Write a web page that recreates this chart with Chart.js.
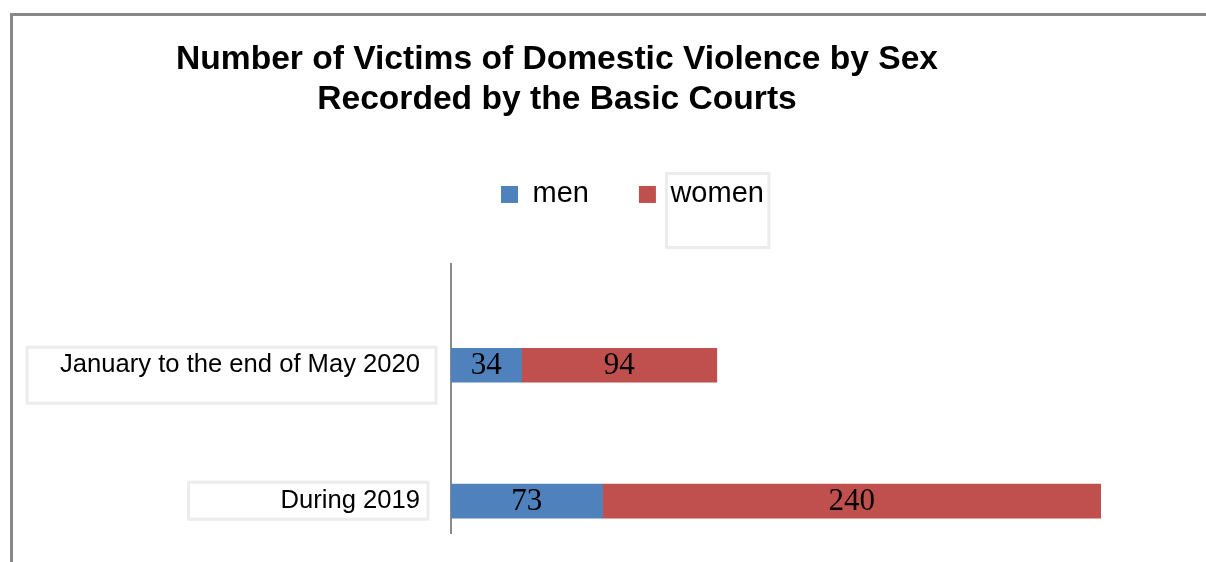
<!DOCTYPE html>
<html>
<head>
<meta charset="utf-8">
<script src="https://cdn.jsdelivr.net/npm/chart.js@4.4.0/dist/chart.umd.min.js"></script>
<style>
  html, body { margin: 0; padding: 0; background: #fff; }
  #frame {
    position: absolute; left: 10px; top: 13px;
    width: 1193px; height: 546px;
    border-top: 3px solid #888; border-left: 3px solid #888;
  }
  canvas { display: block; }
</style>
</head>
<body>
<div id="frame"><canvas id="victimsChart" width="1193" height="546"></canvas></div>
<script>
const titleLines = ["Number of Victims of Domestic Violence by Sex", "Recorded by the Basic Courts"];
const periods = ["January to the end of May 2020", "During 2019"];
const seriesNames = ["men", "women"];
const menCounts = [34, 73];
const womenCounts = [94, 240];

Chart.defaults.font.family = '"Liberation Sans", Arial, sans-serif';

// extra room between legend and plot
const legendGap = {
  id: 'legendGap',
  beforeInit(chart) {
    const fit = chart.legend.fit;
    chart.legend.fit = function () {
      fit.call(this);
      this.height += 45;
    };
  }
};

// numbers in the middle of each bar piece
const barValues = {
  id: 'barValues',
  afterDatasetsDraw(chart) {
    const ctx = chart.ctx;
    ctx.save();
    ctx.font = '31px "Liberation Serif", serif';
    ctx.fillStyle = '#000';
    ctx.textAlign = 'center';
    ctx.textBaseline = 'middle';
    chart.data.datasets.forEach((ds, i) => {
      chart.getDatasetMeta(i).data.forEach((bar, j) => {
        const { x, y, base } = bar.getProps(['x', 'y', 'base'], true);
        ctx.fillText(ds.data[j].x, (x + base) / 2, y + 1);
      });
    });
    ctx.restore();
  }
};

// the faint boxes left round the labels in the original
const faintFrames = {
  id: 'faintFrames',
  afterDraw(chart) {
    const ctx = chart.ctx;
    const yScale = chart.scales.y;
    const pads = [[33, 16, 18, 38], [92, 8, 19, 18]];
    ctx.save();
    ctx.strokeStyle = '#ececec';
    ctx.lineWidth = 3;
    ctx.font = '25.6px "Liberation Sans"';
    periods.forEach((p, i) => {
      const right = yScale.right - 31;
      const left = right - ctx.measureText(p).width;
      const cy = yScale.getPixelForValue(i);
      const [l, r, t, b] = pads[i];
      ctx.strokeRect(left - l, cy - t, right - left + l + r, t + b);
    });
    const hb = chart.legend.legendHitBoxes[1];
    if (hb) {
      ctx.font = '29px "Liberation Sans"';
      const tx = hb.left + 17 + 14.5;
      const tw = ctx.measureText(seriesNames[1]).width;
      const cy = hb.top + 14.5;
      ctx.strokeRect(tx - 4, cy - 21, tw + 9, 74);
    }
    ctx.restore();
  }
};

new Chart(document.getElementById('victimsChart'), {
  type: 'bar',
  data: {
    datasets: [
      {
        label: seriesNames[0],
        data: menCounts.map((v, i) => ({ x: v, y: i })),
        backgroundColor: '#4f81bd',
        barThickness: 34
      },
      {
        label: seriesNames[1],
        data: womenCounts.map((v, i) => ({ x: v, y: i })),
        backgroundColor: '#c0504d',
        barThickness: 34
      }
    ]
  },
  options: {
    indexAxis: 'y',
    responsive: false,
    animation: false,
    layout: { padding: { right: 105, bottom: 29 } },
    scales: {
      x: { display: false, stacked: true, min: 0, max: 313 },
      y: {
        type: 'linear',
        stacked: true,
        reverse: true,
        offset: false,
        bounds: 'data',
        min: -0.745,
        max: 1.234,
        grid: { display: false, drawTicks: false },
        border: { color: '#8a8a8a', width: 2 },
        ticks: {
          padding: 31,
          color: '#000',
          font: { size: 25.6 },
          callback: v => periods[v] ?? ''
        },
        afterBuildTicks: s => { s.ticks = periods.map((_, i) => ({ value: i })); },
        afterFit: s => {
          s.width = 438;
          s.paddingTop = 0;
          s.paddingBottom = 0;
        }
      }
    },
    plugins: {
      title: {
        display: true,
        text: titleLines,
        color: '#000',
        font: { size: 33.6, weight: 'bold', lineHeight: 1.19 },
        padding: { top: 24, bottom: 10 }
      },
      legend: {
        fullSize: false,
        align: 'start',
        labels: { boxWidth: 17, boxHeight: 17, padding: 50, color: '#000', font: { size: 29 } }
      },
      tooltip: { enabled: false }
    }
  },
  plugins: [legendGap, barValues, faintFrames]
});
</script>
</body>
</html>
